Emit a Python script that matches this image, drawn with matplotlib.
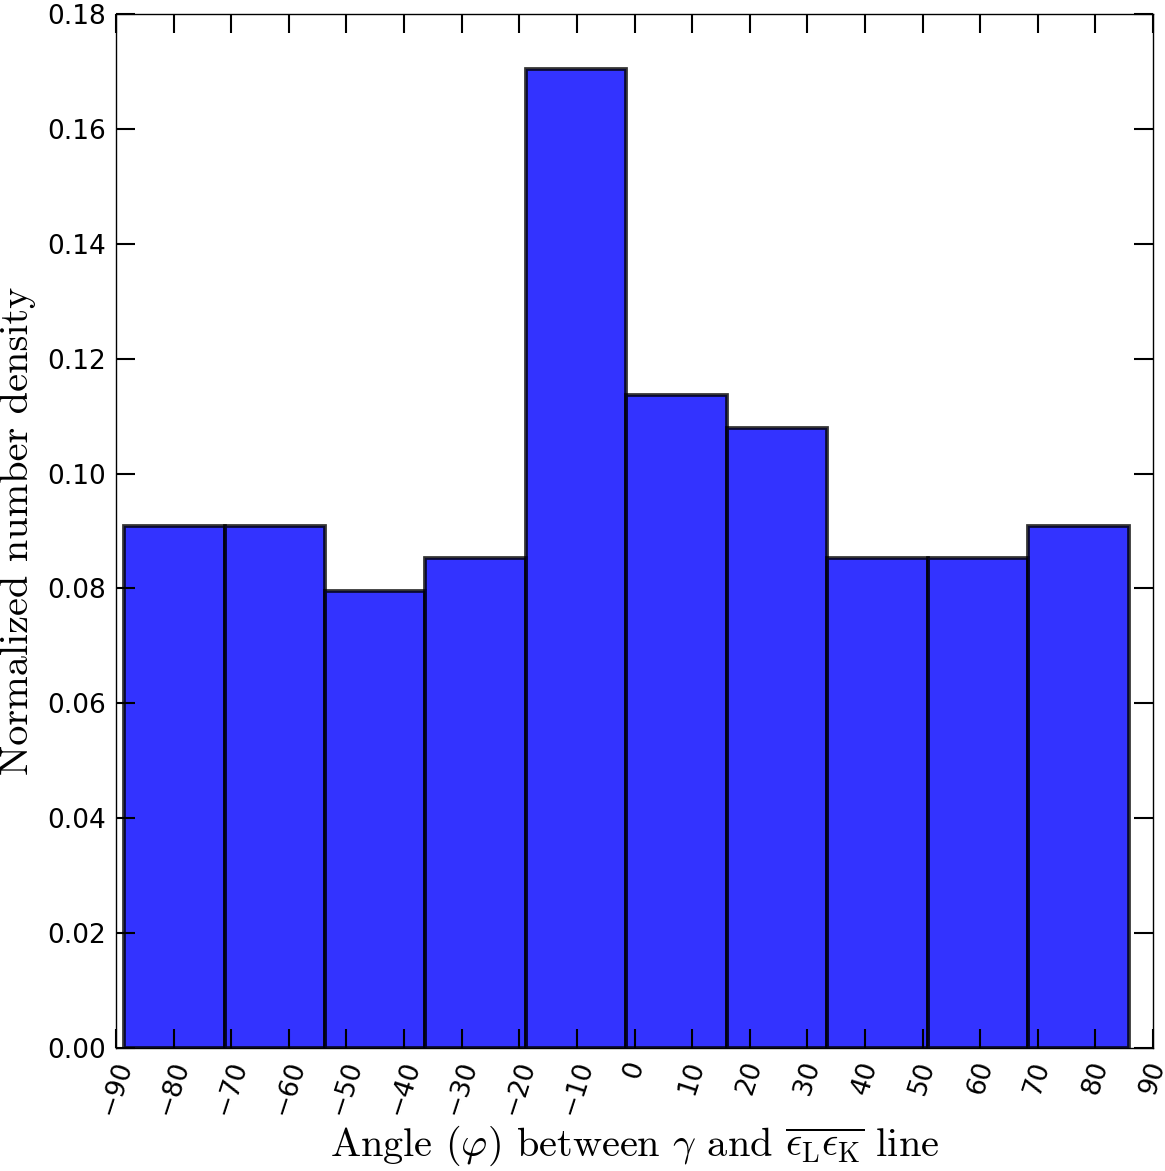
import matplotlib
matplotlib.use("Agg")
import matplotlib.pyplot as plt
import numpy as np

plt.rcParams['mathtext.fontset'] = 'cm'
plt.rcParams['axes.unicode_minus'] = True

# Data
bin_start = -88.6
bin_end = 85.8
n_bins = 10
counts = [16, 16, 14, 15, 30, 20, 19, 15, 15, 16]
x_ticks = list(range(-90, 91, 10))
y_ticks = [0.00, 0.02, 0.04, 0.06, 0.08, 0.10, 0.12, 0.14, 0.16, 0.18]

edges = np.linspace(bin_start, bin_end, n_bins + 1)
heights = np.array(counts) / np.sum(counts)

fig = plt.figure(figsize=(11.65, 11.71), dpi=100)
ax = fig.add_axes([116/1165, (1171-1048)/1171, 1037/1165, 1034/1171])

ax.bar(edges[:-1], heights, width=np.diff(edges), align='edge',
       color=(0, 0, 1), edgecolor='black', linewidth=2.7, alpha=0.8)

ax.set_xlim(-90, 90)
ax.set_ylim(0, 0.18)
ax.set_xticks(x_ticks)
ax.set_yticks(y_ticks)
ax.set_yticklabels([f"{v:.2f}" for v in y_ticks])
ax.set_xticklabels([f"{v}".replace('-', '\u2212') for v in x_ticks], rotation=72, ha='center')

ax.tick_params(direction='in', length=14, width=1.5, top=True, right=True,
               labelsize=19, pad=7)
for s in ax.spines.values():
    s.set_linewidth(1.0)

ax.set_xlabel(r'Angle ($\varphi$) between $\gamma$ and $\overline{\epsilon_{\mathrm{L}}\epsilon_{\mathrm{K}}}$ line',
              fontfamily='cmr10', fontsize=29, labelpad=4)
ax.set_ylabel('Normalized number density', fontfamily='cmr10', fontsize=29, labelpad=8)

fig.savefig('out.png', dpi=100)
